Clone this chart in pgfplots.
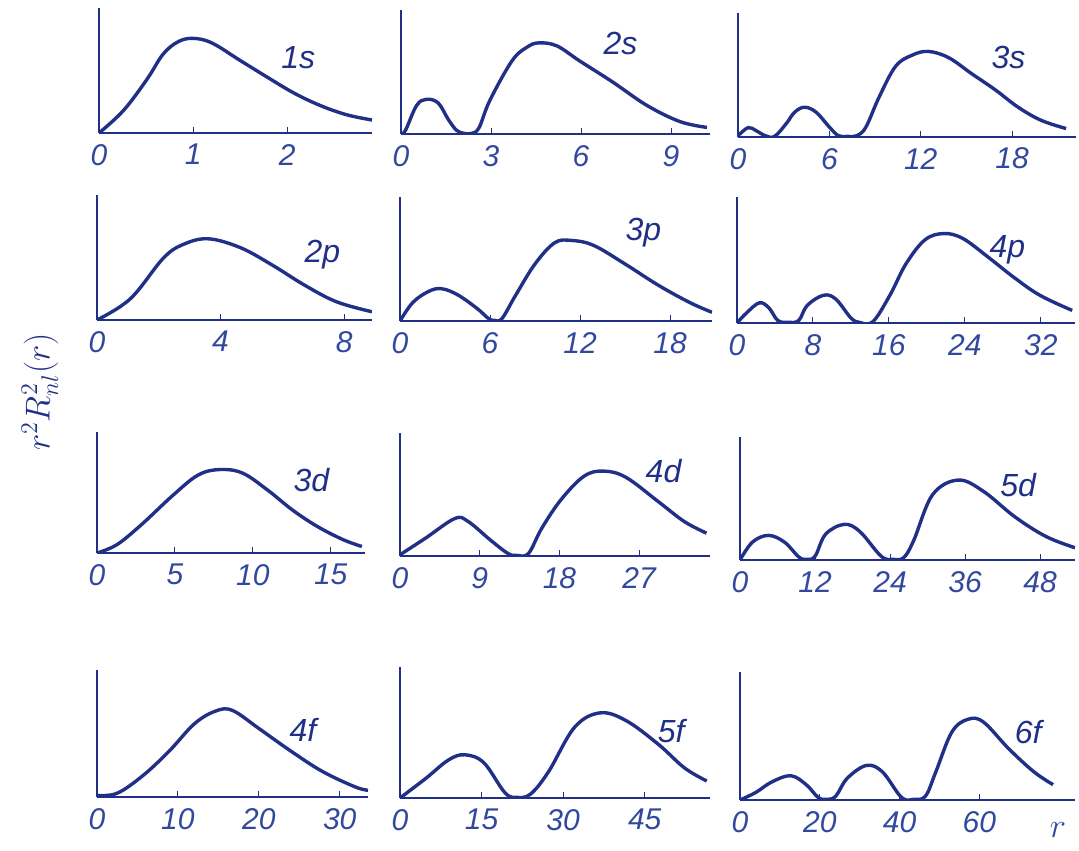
\documentclass[border=0pt]{standalone}
\usepackage{fontspec}
\setmainfont{Liberation Sans}
\usepackage{pgfplots}
\pgfplotsset{compat=1.18}
\definecolor{ink}{RGB}{32,48,135}
\definecolor{inklight}{RGB}{50,72,158}
\pgfplotsset{
  crv/.style={draw=ink, line width=1.7pt, smooth, tension=0.6, mark=none},
  panel/.style={
    scale only axis,
    anchor=south west,
    axis x line=bottom,
    axis y line=left,
    axis line style={-, draw=ink},
    x axis line style={line width=1.4pt},
    y axis line style={line width=0.7pt},
    xmin=0, ymin=0, ymax=1,
    ytick=\empty,
    xtick align=inside,
    major tick length=3pt,
    tick style={draw=ink, line width=0.5pt},
    /pgf/number format/assume math mode=true,
    xticklabel style={font=\fontsize{15}{15}\selectfont\itshape, text=inklight, yshift=-2pt},
    clip=true,
  },
}
\newcommand{\plab}[3]{\node[font=\fontsize{16}{16}\selectfont\itshape, text=ink] at (rel axis cs:#1,#2) {#3};}
\begin{document}
\begin{tikzpicture}
\useasboundingbox (0pt,0pt) rectangle (539.5pt,-425pt);
% ---------- Row 1 ----------
\begin{axis}[panel, at={(49.5pt,-66.5pt)}, width=136.5pt, height=62.5pt, xmax=2.9, xtick={0,1,2}]
\addplot[crv] coordinates {(0,0) (0.26,0.18) (0.51,0.43) (0.68,0.63) (0.84,0.73) (1.0,0.757) (1.2,0.72) (1.5,0.58) (1.78,0.45) (2.07,0.32) (2.35,0.22) (2.63,0.146) (2.9,0.104)};
\plab{0.73}{0.60}{1s}
\end{axis}
\begin{axis}[panel, at={(200.5pt,-67pt)}, width=154.5pt, height=62pt, xmax=10.3, xtick={0,3,6,9}]
\addplot[crv] coordinates {(0,0) (0.15,0.03) (0.52,0.23) (0.85,0.28) (1.24,0.25) (1.57,0.12) (1.85,0.03) (2.1,0.005) (2.35,0.005) (2.6,0.05) (2.96,0.27) (3.7,0.59) (4.2,0.70) (4.6,0.735) (5.2,0.71) (5.95,0.59) (7.05,0.42) (8.2,0.23) (9.3,0.10) (10.2,0.053)};
\plab{0.71}{0.73}{2s}
\end{axis}
\begin{axis}[panel, at={(369pt,-68.5pt)}, width=169pt, height=62pt, xmax=22.2, xtick={0,6,12,18}]
\addplot[crv] coordinates {(0,0.01) (0.67,0.076) (1.2,0.05) (1.8,0.01) (2.4,0.005) (3.18,0.11) (3.72,0.2) (4.37,0.24) (5.13,0.2) (6.0,0.08) (6.6,0.01) (7.2,0.005) (7.8,0.01) (8.4,0.08) (9.26,0.32) (10.35,0.57) (11.44,0.66) (12.5,0.69) (13.83,0.64) (15.35,0.51) (16.9,0.38) (18.4,0.24) (19.9,0.135) (21.55,0.068)};
\plab{0.80}{0.64}{3s}
\end{axis}
% ---------- Row 2 ----------
\begin{axis}[panel, at={(48.5pt,-160pt)}, width=137.5pt, height=62.5pt, xmax=8.9, xtick={0,4,8}]
\addplot[crv] coordinates {(0,0) (1.08,0.17) (2.13,0.49) (2.75,0.60) (3.58,0.65) (4.63,0.58) (5.67,0.44) (6.71,0.28) (7.75,0.146) (8.9,0.066)};
\plab{0.82}{0.52}{2p}
\end{axis}
\begin{axis}[panel, at={(200pt,-160.5pt)}, width=156pt, height=62pt, xmax=20.8, xtick={0,6,12,18}]
\addplot[crv] coordinates {(0,0) (0.86,0.15) (1.93,0.24) (2.79,0.26) (3.86,0.21) (5.15,0.10) (5.9,0.02) (6.3,0.005) (6.8,0.02) (7.72,0.21) (9.0,0.46) (10.3,0.63) (11.4,0.65) (12.9,0.61) (15.0,0.46) (17.2,0.29) (19.3,0.15) (20.8,0.07)};
\plab{0.78}{0.71}{3p}
\end{axis}
\begin{axis}[panel, at={(368.5pt,-161.5pt)}, width=169pt, height=63pt, xmax=35.6, xtick={0,8,16,24,32}]
\addplot[crv] coordinates {(0,0) (1.0,0.08) (2.35,0.16) (3.36,0.12) (4.3,0.02) (5.4,0.005) (6.5,0.02) (7.4,0.14) (9.1,0.22) (10.4,0.19) (12.0,0.04) (12.9,0.005) (14.3,0.01) (16.1,0.22) (17.8,0.47) (19.8,0.66) (21.8,0.71) (23.8,0.67) (26.5,0.52) (29.2,0.36) (31.9,0.22) (35.3,0.10)};
\plab{0.80}{0.58}{4p}
\end{axis}
% ---------- Row 3 ----------
\begin{axis}[panel, at={(48.5pt,-276.5pt)}, width=134pt, height=60.5pt, xmax=17.2, xtick={0,5,10,15}]
\addplot[crv] coordinates {(0,0) (1.29,0.07) (2.9,0.24) (4.9,0.48) (6.5,0.645) (7.9,0.69) (9.35,0.66) (10.95,0.52) (12.6,0.35) (14.2,0.215) (15.8,0.11) (17.0,0.054)};
\plab{0.80}{0.60}{3d}
\end{axis}
\begin{axis}[panel, at={(200pt,-278pt)}, width=155pt, height=61.5pt, xmax=35, xtick={0,9,18,27}]
\addplot[crv] coordinates {(0,0.01) (2.9,0.146) (6.2,0.305) (7.7,0.28) (10.2,0.13) (12.2,0.02) (13.2,0.005) (14.5,0.02) (16.0,0.225) (18.2,0.46) (20.8,0.65) (23.0,0.69) (25.5,0.64) (29.2,0.44) (32.1,0.28) (34.6,0.186)};
\plab{0.85}{0.69}{4d}
\end{axis}
\begin{axis}[panel, at={(370pt,-280pt)}, width=167.5pt, height=61.5pt, xmax=53.6, xtick={0,12,24,36,48}]
\addplot[crv] coordinates {(0,0) (2.0,0.146) (4.55,0.2) (7.1,0.146) (9.4,0.025) (10.6,0.005) (12.0,0.03) (13.7,0.21) (16.7,0.29) (19.2,0.23) (22.6,0.03) (24.5,0.005) (26.2,0.02) (27.8,0.16) (30.8,0.53) (34.9,0.65) (38.9,0.56) (44.0,0.35) (49.0,0.19) (53.6,0.10)};
\plab{0.83}{0.61}{5d}
\end{axis}
% ---------- Row 4 ----------
\begin{axis}[panel, at={(48.5pt,-398.5pt)}, width=135.5pt, height=63.5pt, xmax=33.5, xtick={0,10,20,30}]
\addplot[crv] coordinates {(0,0.013) (2.5,0.03) (5.7,0.17) (8.9,0.36) (12.1,0.58) (14.8,0.68) (16.8,0.68) (20.0,0.54) (24.0,0.36) (27.9,0.2) (31.9,0.08) (33.5,0.053)};
\plab{0.76}{0.53}{4f}
\end{axis}
\begin{axis}[panel, at={(200pt,-399pt)}, width=155pt, height=65.5pt, xmax=57, xtick={0,15,30,45}]
\addplot[crv] coordinates {(0,0) (4.75,0.15) (8.9,0.29) (11.9,0.33) (15.4,0.27) (19.3,0.04) (21.5,0.005) (24.0,0.03) (27.3,0.2) (32.1,0.54) (36.8,0.65) (41.6,0.59) (47.5,0.41) (52.3,0.23) (56.4,0.13)};
\plab{0.875}{0.51}{5f}
\end{axis}
\begin{axis}[panel, at={(370pt,-400pt)}, width=167.5pt, height=64pt, xmax=84, xtick={0,20,40,60}]
\addplot[crv] coordinates {(0,0) (4.0,0.06) (7.9,0.14) (12.7,0.19) (16.6,0.12) (19.6,0.02) (21.8,0.005) (24.0,0.03) (26.9,0.17) (31.7,0.27) (35.7,0.22) (40.5,0.02) (43.5,0.005) (46.5,0.03) (49.1,0.22) (53.1,0.53) (57.1,0.63) (61.0,0.61) (67.4,0.40) (73.7,0.22) (78.5,0.12)};
\plab{0.86}{0.53}{6f}
\end{axis}
% axis titles
\node[rotate=90, font=\fontsize{18}{18}\selectfont, text=ink] at (20pt,-196pt) {$r^2R^2_{nl}(r)$};
\node[font=\fontsize{16}{16}\selectfont, text=inklight] at (529pt,-415pt) {$r$};
\end{tikzpicture}
\end{document}
